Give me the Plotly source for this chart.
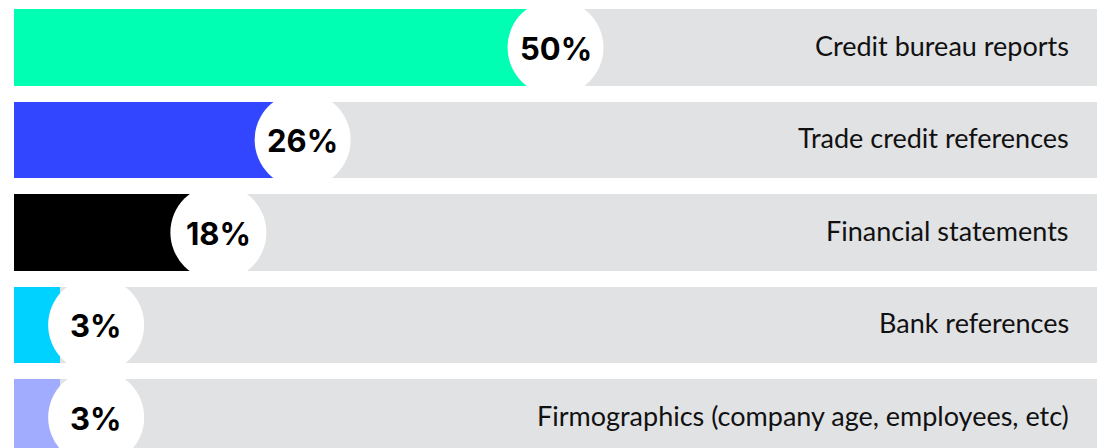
import plotly.graph_objects as go

# Share of respondents using each information source
categories = [
    "Credit bureau reports",
    "Trade credit references",
    "Financial statements",
    "Bank references",
    "Firmographics (company age, employees, etc)",
]
values = [50, 26, 18, 3, 3]
bar_colors = ["#00FFB3", "#3346FF", "#000000", "#00D2FF", "#A2ACFF"]
value_labels = [f"{v}%" for v in values]

# Axis layout
X_MIN, X_MAX = -1.4, 101.4
BADGE_MIN_X = 6.4          # keep the value badge fully inside the bar
BAR_WIDTH = 0.832
TRACK_COLOR = "#E1E2E4"

rows = list(range(len(categories)))
badge_x = [max(v, BADGE_MIN_X) for v in values]

fig = go.Figure()

# grey track behind every bar
fig.add_trace(go.Bar(
    y=rows, x=[X_MAX - X_MIN] * len(rows), base=X_MIN,
    orientation="h", width=BAR_WIDTH,
    marker=dict(color=TRACK_COLOR, line=dict(width=0)),
    hoverinfo="skip", showlegend=False,
))

# coloured value bars
fig.add_trace(go.Bar(
    y=rows, x=[v - X_MIN for v in values], base=X_MIN,
    orientation="h", width=BAR_WIDTH,
    marker=dict(color=bar_colors, line=dict(width=0)),
    hoverinfo="skip", showlegend=False,
))

# white value badges
fig.add_trace(go.Scatter(
    y=rows, x=badge_x, mode="markers",
    marker=dict(size=96, color="white", line=dict(width=0)),
    hoverinfo="skip", showlegend=False, cliponaxis=False,
))

# percentage inside each badge
for r, bx, lab in zip(rows, badge_x, value_labels):
    fig.add_annotation(
        x=bx, y=r, xref="x", yref="y",
        text=lab, showarrow=False,
        xanchor="center", yanchor="middle", yshift=-1,
        font=dict(family="Inter", size=31, color="#000000", weight=700),
    )

# category names, right aligned on the track
for r, name in zip(rows, categories):
    fig.add_annotation(
        x=X_MAX, y=r, xref="x", yref="y",
        text=name, showarrow=False,
        xanchor="right", yanchor="middle", xshift=-26, yshift=2,
        font=dict(family="Lato", size=27, color="#111111"),
    )

fig.update_layout(
    width=1100, height=448,
    margin=dict(l=14, r=3, t=0, b=0),
    paper_bgcolor="white", plot_bgcolor="white",
    barmode="overlay", bargap=0,
    xaxis=dict(range=[X_MIN, X_MAX], visible=False, fixedrange=True),
    yaxis=dict(range=[4.33, -0.5135], visible=False, fixedrange=True),
)

fig.write_html("out.html", config={"displayModeBar": False})
